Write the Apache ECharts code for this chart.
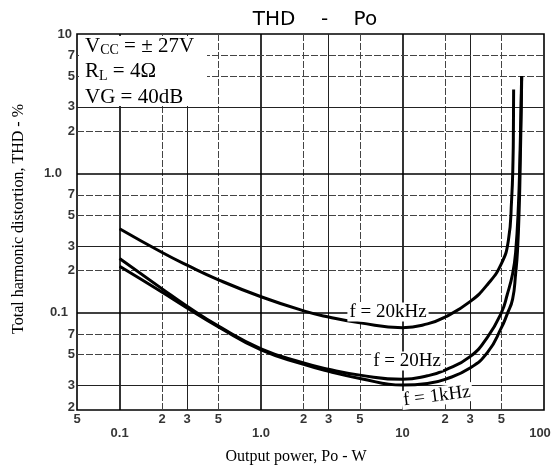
<!DOCTYPE html>
<html><head><meta charset="utf-8">
<script src="https://cdn.jsdelivr.net/npm/echarts@6/dist/echarts.min.js"></script>
<style>html,body{margin:0;padding:0;background:#fff}#c{width:554px;height:476px}</style>
</head><body><div id="c"></div>
<script>
// ---- texts ----
const chartTitle = 'THD    -    Po';
const xAxisTitle = 'Output power, Po - W';
const yAxisTitle = 'Total harmonic distortion, THD - %';
const conditionLines = ['V{sub|CC} = ± 27V', 'R{sub|L} = 4Ω', 'VG = 40dB'];
const curveLabels = ['f = 20kHz', 'f = 20Hz', 'f = 1kHz'];

// ---- axes ----
const xMin = 0.05, xMax = 100;
const yMin = 0.02, yMax = 10;
const xTickValues = [0.05, 0.1, 0.2, 0.3, 0.5, 1, 2, 3, 5, 10, 20, 30, 50, 100];
const xTickLabels = ['5', '0.1', '2', '3', '5', '1.0', '2', '3', '5', '10', '2', '3', '5', '100'];
const yTickValues = [10, 7, 5, 3, 2, 1, 0.7, 0.5, 0.3, 0.2, 0.1, 0.07, 0.05, 0.03, 0.02];
const yTickLabels = ['10', '7', '5', '3', '2', '1.0', '7', '5', '3', '2', '0.1', '7', '5', '3', '2'];

// ---- series (Po in W, THD in %) ----
const power20kHz = [0.1, 0.2, 0.3, 0.5, 1, 2, 3, 5, 10, 15, 20, 30, 40, 50, 56, 59, 60.4, 60.8, 61];
const thd20kHz   = [0.40, 0.270, 0.219, 0.172, 0.130, 0.103, 0.093, 0.0844, 0.078, 0.083, 0.093, 0.12, 0.16, 0.225, 0.33, 0.64, 1.25, 2.2, 4.0];
const power20Hz  = [0.1, 0.2, 0.3, 0.5, 1, 2, 3, 5, 10, 15, 20, 30, 40, 50, 55, 60, 63, 66, 67.5, 68.7, 69.5];
const thd20Hz    = [0.245, 0.148, 0.111, 0.080, 0.055, 0.0435, 0.0392, 0.0356, 0.0332, 0.0352, 0.0387, 0.0483, 0.067, 0.10, 0.135, 0.19, 0.27, 0.6, 1.25, 2.8, 5.0];
const power1kHz  = [0.1, 0.2, 0.3, 0.5, 1, 2, 3, 5, 10, 15, 20, 30, 40, 50, 55, 60, 63, 65, 67, 68, 69, 69.6];
const thd1kHz    = [0.215, 0.140, 0.108, 0.079, 0.054, 0.0425, 0.0379, 0.0337, 0.0302, 0.0310, 0.0332, 0.0400, 0.052, 0.078, 0.098, 0.125, 0.19, 0.28, 0.62, 1.25, 2.8, 5.0];

// ---- build ----
const pairs = (xs, ys) => xs.map((x, i) => [x, ys[i]]);
function mantissa(v) { return Math.round(v / Math.pow(10, Math.floor(Math.log10(v) + 1e-9)) * 10) / 10; }
function gridStyle(v) {
  const m = mantissa(v);
  if (m === 1) return { type: 'solid', width: 1.6, color: '#000' };
  if (m === 3) return { type: 'solid', width: 1, color: '#222' };
  return { type: [7, 2], width: 1, color: '#444' };
}
const markData = [];
xTickValues.forEach(v => { if (v > xMin && v < xMax) markData.push({ xAxis: v, lineStyle: gridStyle(v) }); });
yTickValues.forEach(v => { if (v > yMin && v < yMax) markData.push({ yAxis: v, lineStyle: gridStyle(v) }); });

const tickFont = { fontFamily: '"Liberation Sans", Arial, sans-serif', fontSize: 13, fontWeight: 'bold', color: '#000' };
const labelData = [];
xTickValues.forEach((v, i) => {
  const lower = mantissa(v) === 1;
  const offset = (v === xMax) ? [-4, 0] : [0, 0];
  labelData.push({ value: [v, yMin], label: Object.assign({ show: true, position: 'bottom', distance: lower ? 17 : 3, offset, formatter: xTickLabels[i] }, tickFont) });
});
yTickValues.forEach((v, i) => {
  const t = yTickLabels[i];
  const dist = t === '1.0' ? 15 : t === '0.1' ? 9 : t === '10' ? 5 : 2;
  const offset = (v === yMin) ? [0, -3] : [0, 0];
  labelData.push({ value: [xMin, v], label: Object.assign({ show: true, position: 'left', distance: dist, offset, formatter: t }, tickFont) });
});

const curveStyle = { color: '#000', width: 3 };
const lineSeries = (name, data) => ({
  name, type: 'line', data, showSymbol: false, symbol: 'none', smooth: 0.5,
  lineStyle: curveStyle, z: 5, silent: true
});

const serif = '"Liberation Serif", "Times New Roman", serif';
const chart = echarts.init(document.getElementById('c'), null, { renderer: 'canvas' });
chart.setOption({
  animation: false,
  backgroundColor: '#fff',
  grid: { left: 77, right: 10, top: 34, bottom: 66, show: true, borderColor: '#000', borderWidth: 1.6, backgroundColor: 'transparent' },
  xAxis: { type: 'log', logBase: 10, min: xMin, max: xMax, axisLine: { show: false }, axisTick: { show: false }, axisLabel: { show: false }, splitLine: { show: false } },
  yAxis: { type: 'log', logBase: 10, min: yMin, max: yMax, axisLine: { show: false }, axisTick: { show: false }, axisLabel: { show: false }, splitLine: { show: false } },
  series: [
    {
      name: 'ticks', type: 'scatter', data: labelData, symbolSize: 0.1, clip: false, silent: true,
      itemStyle: { color: 'rgba(0,0,0,0)' }, z: 1,
      markLine: { silent: true, symbol: 'none', label: { show: false }, data: markData, animation: false }
    },
    lineSeries('f = 20kHz', pairs(power20kHz, thd20kHz)),
    lineSeries('f = 20Hz', pairs(power20Hz, thd20Hz)),
    lineSeries('f = 1kHz', pairs(power1kHz, thd1kHz))
  ],
  graphic: [
    { type: 'text', x: 315, y: 20, z: 50, style: { text: chartTitle, font: '20px "DejaVu Sans", sans-serif', fill: '#000', align: 'center', verticalAlign: 'middle' } },
    { type: 'text', x: 296, y: 457, z: 50, style: { text: xAxisTitle, font: '16px ' + serif, fill: '#000', align: 'center', verticalAlign: 'middle' } },
    { type: 'text', x: 19, y: 219, rotation: Math.PI / 2, z: 50, style: { text: yAxisTitle, font: '16px ' + serif, fill: '#000', align: 'center', verticalAlign: 'middle' } },
    { type: 'rect', z: 40, shape: { x: 79, y: 36, width: 128, height: 70 }, style: { fill: '#fff' } },
    ...conditionLines.map((t, i) => ({
      type: 'text', x: 85, y: 46 + i * 25.5, z: 50,
      style: { text: t, font: '21px ' + serif, fill: '#000', align: 'left', verticalAlign: 'middle',
        rich: { sub: { fontSize: 14, fontFamily: serif, padding: [9, 0, 0, 0] } } }
    })),
    { type: 'text', x: 388, y: 312, z: 50, style: { text: curveLabels[0], font: '19px ' + serif, fill: '#000', align: 'center', verticalAlign: 'middle', backgroundColor: '#fff', padding: [0, 2] } },
    { type: 'text', x: 407, y: 361, z: 50, style: { text: curveLabels[1], font: '19px ' + serif, fill: '#000', align: 'center', verticalAlign: 'middle', backgroundColor: '#fff', padding: [0, 2] } },
    { type: 'text', x: 437, y: 396, rotation: 0.13, z: 50, style: { text: curveLabels[2], font: '19px ' + serif, fill: '#000', align: 'center', verticalAlign: 'middle', backgroundColor: '#fff', padding: [0, 2] } }
  ]
});
</script>
</body></html>
